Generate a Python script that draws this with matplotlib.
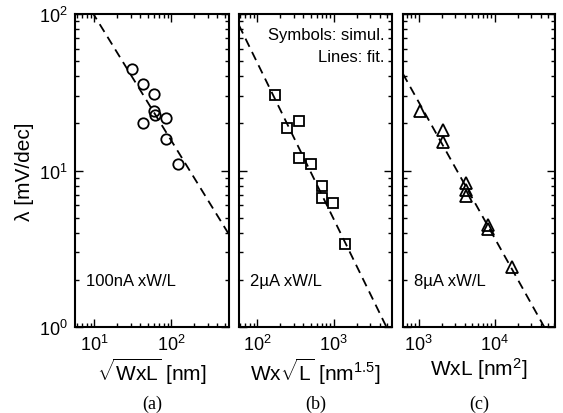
import numpy as np
import matplotlib
matplotlib.use("Agg")
import matplotlib.pyplot as plt
from matplotlib.ticker import LogLocator, LogFormatterSciNotation, NullFormatter

plt.rcParams['font.family'] = ['Liberation Sans', 'DejaVu Sans']
plt.rcParams['mathtext.fontset'] = 'custom'
plt.rcParams['mathtext.rm'] = 'Liberation Sans'
plt.rcParams['mathtext.it'] = 'Liberation Sans:italic'
plt.rcParams['mathtext.bf'] = 'Liberation Sans:bold'

# ---- data ----
a_x = [30.8, 42.8, 60, 60, 61, 85, 42.8, 85, 122]
a_y = [44.6, 35.5, 30.7, 24.1, 22.6, 21.7, 20.0, 15.9, 11.0]
b_x = [174, 245, 348, 348, 499, 700, 700, 972, 1409]
b_y = [30.4, 18.6, 20.8, 12.0, 11.0, 7.93, 6.67, 6.23, 3.38]
c_x = [1052, 2066, 2066, 4160, 4160, 4160, 8180, 8180, 16750]
c_y = [24.1, 18.2, 15.3, 8.3, 7.5, 6.9, 4.5, 4.23, 2.41]

# power-law fits: lambda = y0 * (x / x0) ** p
fit_a = dict(x0=9.8, y0=100.0, p=-0.80)
fit_b = dict(x0=59.7, y0=82.2, p=-1.00)
fit_c = dict(x0=620.0, y0=41.4, p=-0.87)

xlims = [(5.65, 565), (58, 5800), (620, 62000)]
ylim = (1, 100)
xlabels = [r'$\sqrt{\mathrm{WxL}}$ [nm]', r'Wx$\sqrt{\mathrm{L}}$ [nm$^{1.5}$]', r'WxL [nm$^{2}$]']
captions = ['(a)', '(b)', '(c)']
notes = ['100nA xW/L', '2\u00b5A xW/L', '8\u00b5A xW/L']
markers = ['o', 's', '^']

W, H = 563, 414
fig = plt.figure(figsize=(W / 100, H / 100), dpi=100)

boxes = [(75, 229), (239, 392), (403, 555)]
top, bot = 15, 328

datasets = [(a_x, a_y, fit_a), (b_x, b_y, fit_b), (c_x, c_y, fit_c)]
msizes = [7.5, 7, 8]

for i, ((l, r), (xs, ys, fit)) in enumerate(zip(boxes, datasets)):
    ax = fig.add_axes([l / W, (H - bot) / H, (r - l) / W, (bot - top) / H])
    ax.set_xscale('log')
    ax.set_yscale('log')
    ax.set_xlim(*xlims[i])
    ax.set_ylim(*ylim)
    xx = np.logspace(np.log10(xlims[i][0]), np.log10(xlims[i][1]), 200)
    yy = fit['y0'] * (xx / fit['x0']) ** fit['p']
    ax.plot(xx, yy, color='black', lw=1.3, dashes=(5, 3.2))
    ax.plot(xs, ys, linestyle='none', marker=markers[i], markersize=msizes[i],
            markerfacecolor='none', markeredgecolor='black', markeredgewidth=1.3)
    for s in ax.spines.values():
        s.set_linewidth(1.5)
    ax.tick_params(which='both', direction='in', top=True, right=True, width=1.0)
    ax.tick_params(which='major', length=6, labelsize=13, pad=5)
    ax.tick_params(which='minor', length=3)
    ax.xaxis.set_major_locator(LogLocator(base=10, numticks=10))
    ax.xaxis.set_minor_locator(LogLocator(base=10, subs=np.arange(2, 10), numticks=10))
    ax.yaxis.set_major_locator(LogLocator(base=10, numticks=10))
    ax.yaxis.set_minor_locator(LogLocator(base=10, subs=np.arange(2, 10), numticks=10))
    ax.xaxis.set_minor_formatter(NullFormatter())
    ax.yaxis.set_minor_formatter(NullFormatter())
    if i == 0:
        ax.set_ylabel('\u03bb [mV/dec]', fontsize=15, labelpad=4)
    else:
        ax.yaxis.set_major_formatter(NullFormatter())
    ax.set_xlabel(xlabels[i], fontsize=15, labelpad=1)
    ax.text(0.07, 0.15, notes[i], transform=ax.transAxes, fontsize=12, va='center', ha='left')
    ax.text(0.5, -0.245, captions[i], transform=ax.transAxes, fontsize=13,
            ha='center', va='center', family='Liberation Serif')
    if i == 1:
        ax.text(0.95, 0.935, 'Symbols: simul.', transform=ax.transAxes, fontsize=12,
                ha='right', va='center')
        ax.text(0.95, 0.865, 'Lines: fit.', transform=ax.transAxes, fontsize=12,
                ha='right', va='center')

fig.savefig('out.png', dpi=100)
